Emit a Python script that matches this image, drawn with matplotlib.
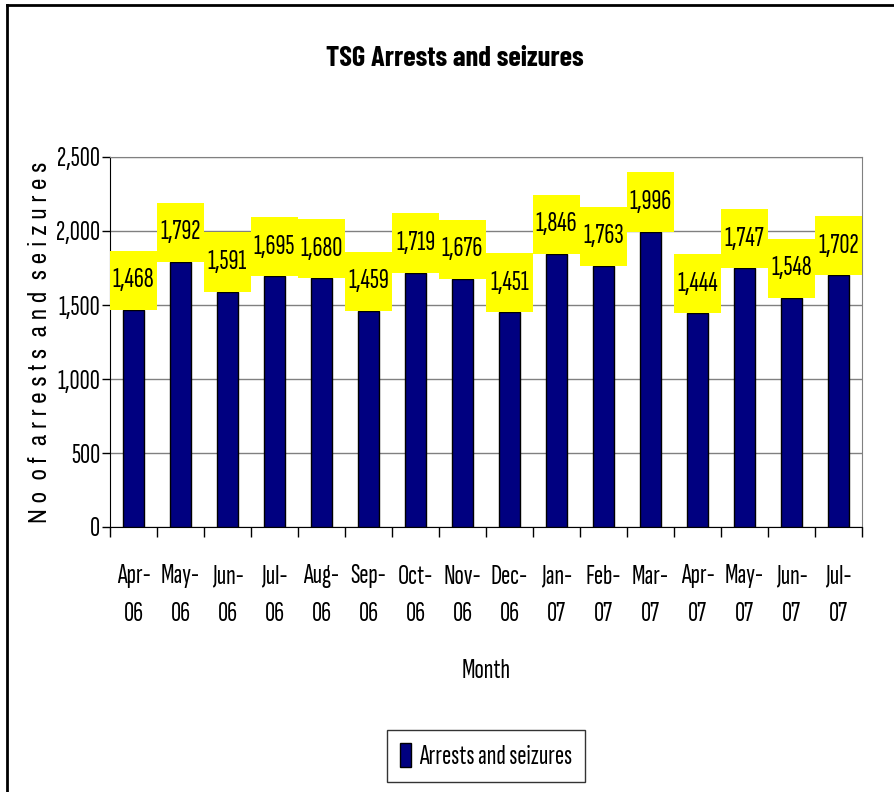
import matplotlib
matplotlib.use("Agg")
import matplotlib.pyplot as plt
from matplotlib.patches import Rectangle
from matplotlib.lines import Line2D

months = ["Apr-\n06", "May-\n06", "Jun-\n06", "Jul-\n06", "Aug-\n06", "Sep-\n06", "Oct-\n06", "Nov-\n06",
          "Dec-\n06", "Jan-\n07", "Feb-\n07", "Mar-\n07", "Apr-\n07", "May-\n07", "Jun-\n07", "Jul-\n07"]
values = [1468, 1792, 1591, 1695, 1680, 1459, 1719, 1676, 1451, 1846, 1763, 1996, 1444, 1747, 1548, 1702]
yticks = [0, 500, 1000, 1500, 2000, 2500]

plt.rcParams['font.family'] = ['Sofia Sans Extra Condensed', 'DejaVu Sans']
FS = 20

fig = plt.figure(figsize=(8.94, 7.92), dpi=100)
ax = fig.add_axes([110/894, 1-527/792, (862-110)/894, (527-157)/792])

navy = '#000080'
x = list(range(len(values)))
bars = ax.bar(x, values, width=0.43, color=navy, edgecolor='black', linewidth=1, zorder=3,
              label="Arrests and seizures")

ax.set_xlim(-0.5, len(values)-0.5)
ax.set_ylim(0, 2500)
ax.set_yticks(yticks)
ax.set_yticklabels([f"{v:,}" for v in yticks], fontsize=FS)
ax.yaxis.grid(True, color='#808080', linewidth=1, zorder=0)
ax.tick_params(axis='y', length=6, width=1, direction='out', pad=1)

ax.set_xticks(x)
ax.set_xticklabels(months, fontsize=FS, linespacing=1.7)
ax.tick_params(axis='x', which='major', length=0, pad=27)
ax.set_xticks([i - 0.5 for i in range(len(values)+1)], minor=True)
ax.tick_params(axis='x', which='minor', length=7, width=1, direction='out')

for s in ['top', 'right']:
    ax.spines[s].set_color('#808080')
for s in ['left', 'bottom']:
    ax.spines[s].set_color('black')

box_h = 400
for i, v in zip(x, values):
    ax.add_patch(Rectangle((i-0.5, v), 1.0, box_h, facecolor='#FFFF00', edgecolor='none',
                           zorder=4, clip_on=False))
    ax.text(i, v + box_h*0.5, f"{v:,}", ha='center', va='center', fontsize=FS, zorder=5)

ax.set_xlabel("Month", fontsize=FS, labelpad=24)
ax.set_ylabel("N o  o f  a r r e s t s  a n d  s e i z u r e s", fontsize=18, labelpad=4,
              family=['Archivo Narrow', 'DejaVu Sans'])

fig.text(455/894, 1-58/792, "TSG Arrests and seizures", ha='center', va='center',
         fontsize=20.5, fontweight='bold', family=['Barlow Condensed', 'DejaVu Sans'])

leg = ax.legend(handles=[bars], loc='center', bbox_to_anchor=(486/894, 1-756/792),
                bbox_transform=fig.transFigure, fontsize=FS, frameon=True, fancybox=False,
                edgecolor='black', handlelength=0.4, handleheight=1.0, handletextpad=0.3,
                borderpad=0.45, borderaxespad=0)
leg.get_frame().set_linewidth(1)

fig.add_artist(Line2D([7/894, 7/894], [0, 1-5/792], color='black', linewidth=2, transform=fig.transFigure))
fig.add_artist(Line2D([7/894, 1], [1-5/792, 1-5/792], color='black', linewidth=2, transform=fig.transFigure))

fig.savefig("out.png", dpi=100)
